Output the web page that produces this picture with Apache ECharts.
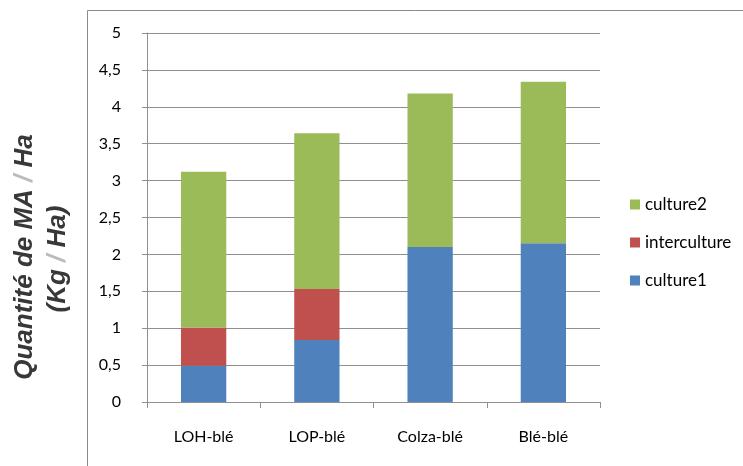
<!DOCTYPE html>
<html>
<head>
<meta charset="utf-8">
<script src="https://cdn.jsdelivr.net/npm/echarts@6/dist/echarts.min.js"></script>
<style>
  html, body { margin: 0; padding: 0; background: #fff; }
  #chart { width: 743px; height: 466px; }
</style>
</head>
<body>
<div id="chart"></div>
<script>
// Rotation systems
const categories = ['LOH-blé', 'LOP-blé', 'Colza-blé', 'Blé-blé'];

// Amount of active matter (kg/ha) per period
const culture1 = [0.49, 0.84, 2.10, 2.15];
const interculture = [0.52, 0.69, 0, 0];
const culture2 = [2.11, 2.11, 2.08, 2.19];

const yTicks = { min: 0, max: 5, interval: 0.5 };

const labelFont = 'Lato, "Noto Sans", sans-serif';
const titleFont = 'italic bold 26px "Liberation Sans", Arial, sans-serif';
const gridColor = '#8f8f8f';

const chart = echarts.init(document.getElementById('chart'), null, { renderer: 'canvas' });

function barSeries(name, data, color) {
  return {
    name: name,
    type: 'bar',
    stack: 'total',
    data: data,
    barWidth: '40%',
    itemStyle: { color: color },
    emphasis: { disabled: true }
  };
}

chart.setOption({
  animation: false,
  backgroundColor: '#ffffff',
  grid: { left: 147, right: 143, top: 33, bottom: 64 },
  legend: {
    orient: 'vertical',
    left: 625,
    top: 191,
    itemWidth: 10,
    itemHeight: 10,
    itemGap: 21,
    icon: 'rect',
    data: ['culture2', 'interculture', 'culture1'],
    textStyle: { fontFamily: labelFont, fontSize: 17, color: '#000' }
  },
  xAxis: {
    type: 'category',
    data: categories,
    axisLine: { lineStyle: { color: gridColor, width: 1 } },
    axisTick: { show: true, alignWithLabel: false, length: 6, lineStyle: { color: gridColor } },
    axisLabel: { fontFamily: labelFont, fontSize: 16, color: '#000', margin: 27 }
  },
  yAxis: {
    type: 'value',
    min: yTicks.min,
    max: yTicks.max,
    interval: yTicks.interval,
    axisLine: { show: true, lineStyle: { color: gridColor, width: 1 } },
    axisTick: { show: true, length: 5, lineStyle: { color: gridColor } },
    splitLine: { lineStyle: { color: gridColor, width: 1 } },
    axisLabel: {
      fontFamily: labelFont, fontSize: 16, color: '#000', margin: 26,
      formatter: v => String(v).replace('.', ',')
    }
  },
  series: [
    barSeries('culture1', culture1, '#4F81BD'),
    barSeries('interculture', interculture, '#C0504D'),
    barSeries('culture2', culture2, '#9BBB59')
  ],
  graphic: [
    // chart frame
    { type: 'line', silent: true, shape: { x1: 87.5, y1: 10.5, x2: 743, y2: 10.5 }, style: { stroke: '#8a8a8a', lineWidth: 1 } },
    { type: 'line', silent: true, shape: { x1: 87.5, y1: 10.5, x2: 87.5, y2: 466 }, style: { stroke: '#8a8a8a', lineWidth: 1 } },
    // vertical axis title, two lines
    {
      type: 'text', silent: true, x: 25, y: 257, rotation: Math.PI / 2,
      style: {
        text: 'Quantité de MA {s|/} Ha',
        font: titleFont,
        fill: '#383838', align: 'center', verticalAlign: 'middle',
        rich: { s: { font: titleFont, fill: '#bbb' } }
      }
    },
    {
      type: 'text', silent: true, x: 58, y: 259, rotation: Math.PI / 2,
      style: {
        text: '(Kg {s|/} Ha)',
        font: titleFont,
        fill: '#383838', align: 'center', verticalAlign: 'middle',
        rich: { s: { font: titleFont, fill: '#bbb' } }
      }
    }
  ]
});
</script>
</body>
</html>
